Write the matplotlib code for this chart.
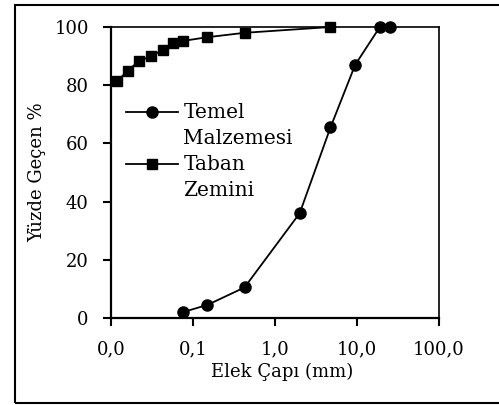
import matplotlib
matplotlib.use("Agg")
import matplotlib.pyplot as plt
from matplotlib.patches import Rectangle
from matplotlib.ticker import NullLocator

plt.rcParams['font.family'] = ['DejaVu Serif']

# sieve analysis: particle size (mm) vs. percent passing
temel_size = [0.075, 0.15, 0.425, 2.0, 4.75, 9.5, 19.0, 25.0]
temel_pass = [2, 4.5, 10.5, 36, 65.5, 87, 100, 100]

taban_size = [0.012, 0.016, 0.022, 0.031, 0.043, 0.057, 0.075, 0.15, 0.425, 4.75]
taban_pass = [81.5, 85, 88.3, 90, 92.2, 94.5, 95.2, 96.5, 98, 100]

x_ticks = [0.01, 0.1, 1, 10, 100]
x_tick_labels = ['0,0', '0,1', '1,0', '10,0', '100,0']
y_ticks = [0, 20, 40, 60, 80, 100]

fig = plt.figure(figsize=(4.99, 4.05), dpi=100)
ax = fig.add_axes([111 / 499, 87 / 405, 328 / 499, 291 / 405])

ax.plot(temel_size, temel_pass, color='black', lw=1.3, marker='o', ms=8,
        clip_on=False, zorder=3, label='Temel\nMalzemesi')
ax.plot(taban_size, taban_pass, color='black', lw=1.3, marker='s', ms=7,
        clip_on=False, zorder=3, label='Taban\nZemini')

ax.set_xscale('log')
ax.set_xlim(0.01, 100)
ax.set_ylim(0, 100)
ax.set_xticks(x_ticks)
ax.set_xticklabels(x_tick_labels)
ax.xaxis.set_minor_locator(NullLocator())
ax.set_yticks(y_ticks)

ax.tick_params(axis='both', direction='out', length=6, width=1.5,
               labelsize=13, color='black')
ax.tick_params(axis='x', pad=10)
ax.tick_params(axis='y', pad=10)

for side in ['left', 'bottom']:
    ax.spines[side].set_linewidth(1.6)
for side in ['top', 'right']:
    ax.spines[side].set_linewidth(1.2)

ax.set_xlabel('Elek Çapı (mm)', fontsize=13)
ax.xaxis.set_label_coords(0.523, -0.155)
ax.set_ylabel('Yüzde Geçen %', fontsize=13, labelpad=6)

leg = ax.legend(loc='upper left', bbox_to_anchor=(0.046, 0.74),
                frameon=False, fontsize=14.5, handlelength=2.6,
                handletextpad=0.25, borderpad=0, borderaxespad=0,
                labelspacing=0.32, numpoints=1)
for t in leg.get_texts():
    t.set_linespacing(1.5)
# put each legend key on the first line of its label
for h in leg.legend_handles:
    h.set_ydata([y + 10.0 for y in h.get_ydata()])

# outer frame around the figure (right side runs off the canvas)
fig.patches.append(Rectangle((15 / 499, 2 / 405), 2.0, 398 / 405,
                             transform=fig.transFigure, fill=False,
                             lw=1.5, edgecolor='black'))

fig.savefig('out.png', dpi=100)
